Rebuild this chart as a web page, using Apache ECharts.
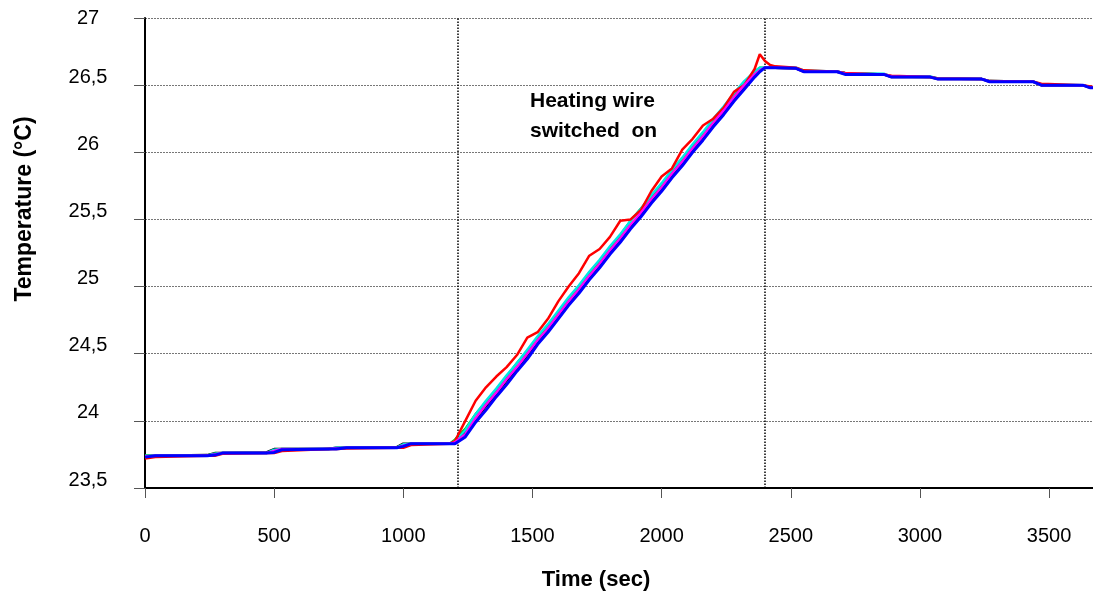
<!DOCTYPE html>
<html>
<head>
<meta charset="utf-8">
<script src="https://cdn.jsdelivr.net/npm/echarts@6/dist/echarts.min.js"></script>
<style>
  html, body { margin: 0; padding: 0; background: #fff; }
  #chart { width: 1093px; height: 597px; }
</style>
</head>
<body>
<div id="chart"></div>
<script>
// time axis (sec): flat start, heating, slow cooling
const times = [
  0, 40, 240, 270, 300, 470, 500, 530, 710, 740, 780, 975, 1000, 1030, 1180,
  1200, 1240, 1280, 1320, 1360, 1400, 1440, 1480, 1520, 1560, 1600, 1640, 1680, 1720,
  1760, 1800, 1840, 1880, 1920, 1960, 2000, 2040, 2080, 2120, 2160, 2200, 2240, 2280,
  2320, 2360, 2380, 2400, 2420, 2440,
  2520, 2550, 2680, 2710, 2860, 2890, 3040, 3070, 3240, 3270, 3440, 3470, 3630, 3660, 3680
]
const xTicks = [0, 500, 1000, 1500, 2000, 2500, 3000, 3500]

const black = [
  23.74, 23.74, 23.745, 23.76, 23.76, 23.765, 23.79, 23.79, 23.79, 23.80, 23.80, 23.805, 23.83, 23.83, 23.83,
  23.84, 23.91, 24.01, 24.11, 24.20, 24.30, 24.39, 24.49, 24.59, 24.68, 24.78, 24.88, 24.97, 25.07,
  25.16, 25.26, 25.35, 25.45, 25.54, 25.64, 25.73, 25.83, 25.92, 26.02, 26.11, 26.21, 26.30, 26.40,
  26.49, 26.58, 26.61, 26.63, 26.63, 26.63,
  26.625, 26.60, 26.60, 26.59, 26.58, 26.56, 26.56, 26.55, 26.545, 26.53, 26.525, 26.50, 26.50, 26.485, 26.48
]
const green = [
  23.74, 23.74, 23.74, 23.755, 23.76, 23.76, 23.78, 23.79, 23.79, 23.795, 23.80, 23.80, 23.82, 23.83, 23.83,
  23.86, 23.94, 24.05, 24.14, 24.23, 24.33, 24.43, 24.52, 24.62, 24.71, 24.81, 24.91, 25.00, 25.10,
  25.19, 25.29, 25.38, 25.49, 25.58, 25.67, 25.76, 25.86, 25.95, 26.05, 26.14, 26.24, 26.33, 26.43,
  26.52, 26.60, 26.63, 26.63, 26.63, 26.63,
  26.625, 26.605, 26.60, 26.585, 26.58, 26.565, 26.56, 26.545, 26.545, 26.525, 26.525, 26.50, 26.50, 26.48, 26.48
]
const cyan = [
  23.74, 23.74, 23.74, 23.755, 23.76, 23.76, 23.785, 23.79, 23.79, 23.80, 23.80, 23.80, 23.825, 23.83, 23.83,
  23.85, 23.93, 24.05, 24.15, 24.24, 24.34, 24.43, 24.53, 24.63, 24.72, 24.82, 24.92, 25.01, 25.11,
  25.20, 25.30, 25.39, 25.49, 25.58, 25.68, 25.77, 25.87, 25.96, 26.06, 26.15, 26.25, 26.34, 26.44,
  26.53, 26.60, 26.63, 26.63, 26.63, 26.63,
  26.63, 26.61, 26.60, 26.59, 26.585, 26.565, 26.565, 26.55, 26.545, 26.53, 26.525, 26.505, 26.50, 26.485, 26.48
]
const red = [
  23.72, 23.73, 23.74, 23.74, 23.755, 23.76, 23.76, 23.775, 23.79, 23.79, 23.795, 23.80, 23.80, 23.82, 23.83,
  23.85, 24.00, 24.15, 24.25, 24.33, 24.40, 24.49, 24.62, 24.66, 24.76, 24.89, 25.00, 25.10, 25.23,
  25.28, 25.37, 25.49, 25.50, 25.57, 25.71, 25.82, 25.88, 26.02, 26.10, 26.20, 26.25, 26.33, 26.45,
  26.50, 26.62, 26.73, 26.68, 26.65, 26.64,
  26.63, 26.61, 26.60, 26.59, 26.58, 26.57, 26.56, 26.55, 26.545, 26.53, 26.525, 26.51, 26.50, 26.49, 26.48
]
const magenta = [
  23.735, 23.74, 23.74, 23.75, 23.76, 23.76, 23.775, 23.79, 23.79, 23.795, 23.80, 23.80, 23.815, 23.83, 23.83,
  23.84, 23.90, 24.02, 24.12, 24.21, 24.31, 24.40, 24.50, 24.60, 24.69, 24.79, 24.89, 24.98, 25.08,
  25.17, 25.27, 25.36, 25.46, 25.55, 25.65, 25.74, 25.84, 25.93, 26.03, 26.12, 26.22, 26.31, 26.41,
  26.50, 26.58, 26.61, 26.63, 26.63, 26.63,
  26.625, 26.60, 26.60, 26.585, 26.58, 26.565, 26.56, 26.545, 26.545, 26.525, 26.525, 26.50, 26.50, 26.48, 26.48
]
const blue = [
  23.73, 23.74, 23.74, 23.745, 23.76, 23.76, 23.765, 23.785, 23.79, 23.79, 23.80, 23.80, 23.81, 23.83, 23.83,
  23.83, 23.88, 23.99, 24.08, 24.18, 24.27, 24.37, 24.46, 24.57, 24.66, 24.76, 24.86, 24.95, 25.05,
  25.14, 25.24, 25.33, 25.43, 25.52, 25.62, 25.71, 25.81, 25.90, 26.00, 26.09, 26.19, 26.28, 26.38,
  26.47, 26.56, 26.60, 26.63, 26.63, 26.63,
  26.625, 26.60, 26.60, 26.58, 26.58, 26.56, 26.56, 26.545, 26.545, 26.525, 26.525, 26.50, 26.50, 26.48, 26.48
]

const heatingMarks = [1210, 2400]

const seriesList = [
  { name: 'black', color: '#000000', values: black },
  { name: 'green', color: '#00cc00', values: green },
  { name: 'cyan', color: '#00e5e5', values: cyan },
  { name: 'red', color: '#ff0000', values: red },
  { name: 'magenta', color: '#ff00ff', values: magenta },
  { name: 'blue', color: '#0000ff', values: blue }
]

const font = 'Liberation Sans, Arial, sans-serif'
const chart = echarts.init(document.getElementById('chart'))

const option = {
  animation: false,
  backgroundColor: '#fff',
  grid: { left: 145, right: 0, top: 18, bottom: 109 },
  graphic: [
    {
      type: 'text',
      left: 530,
      top: 86,
      style: {
        text: 'Heating wire\nswitched  on',
        font: 'bold 21px ' + font,
        lineHeight: 30,
        fill: '#000'
      }
    }
  ],
  xAxis: {
    type: 'value',
    min: 0,
    max: 3670,
    interval: 500,
    name: 'Time (sec)',
    nameLocation: 'middle',
    nameGap: 81,
    nameTextStyle: { fontFamily: font, fontSize: 22, fontWeight: 'bold', color: '#000', padding: [0, 46, 0, 0] },
    axisLine: { lineStyle: { color: '#000', width: 2 } },
    axisTick: { length: 10, customValues: xTicks, lineStyle: { color: '#555' } },
    axisLabel: {
      fontFamily: font, fontSize: 20, color: '#000', margin: 38,
      customValues: xTicks,
      formatter: v => String(v)
    },
    splitLine: { show: false }
  },
  yAxis: {
    type: 'value',
    min: 23.5,
    max: 27,
    interval: 0.5,
    name: 'Temperature (°C)',
    nameLocation: 'middle',
    nameRotate: 90,
    nameGap: 109,
    nameTextStyle: { fontFamily: font, fontSize: 23, fontWeight: 'bold', color: '#000', padding: [0, 0, 0, 88] },
    axisLine: { show: true, lineStyle: { color: '#000', width: 2 } },
    axisTick: { show: true, length: 11, lineStyle: { color: '#555' } },
    axisLabel: {
      align: 'center',
      margin: 57,
      formatter: v => {
        const s = String(v).replace('.', ',')
        return v === 27 ? '{t|' + s + '}' : '{n|' + s + '}'
      },
      rich: {
        t: { fontFamily: font, fontSize: 20, color: '#000' },
        n: { fontFamily: font, fontSize: 20, color: '#000', padding: [0, 0, 16, 0] }
      }
    },
    splitLine: { lineStyle: { color: '#777', type: [2, 1], width: 1 } }
  },
  series: seriesList.map((s, i) => ({
    name: s.name,
    type: 'line',
    showSymbol: false,
    data: times.map((t, j) => [t, s.values[j]]),
    lineStyle: { color: s.color, width: s.name === 'blue' ? 3 : 2.5 },
    itemStyle: { color: s.color },
    z: 2 + i,
    markLine: i === 0 ? {
      silent: true,
      symbol: 'none',
      label: { show: false },
      lineStyle: { color: '#000', type: 'dotted', width: 1.5 },
      data: heatingMarks.map(x => ({ xAxis: x }))
    } : undefined
  }))
}

chart.setOption(option)
</script>
</body>
</html>
